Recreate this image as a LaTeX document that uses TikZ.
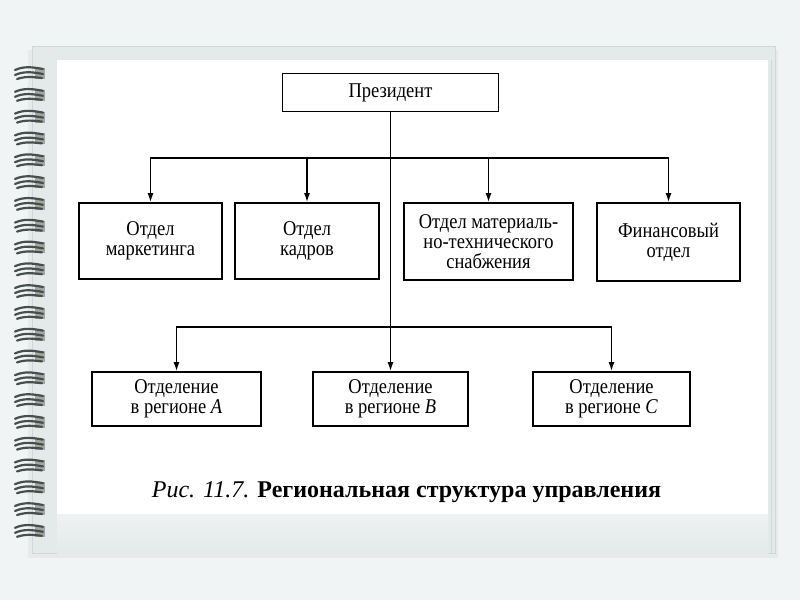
\documentclass[tikz,border=0pt]{standalone}
\usepackage{fontspec}
\setmainfont{Liberation Serif}
\newfontfamily\boxfont[FakeStretch=0.88]{Liberation Serif}
\usetikzlibrary{arrows.meta}
\usetikzlibrary{calc}

\definecolor{bgcol}{RGB}{241,244,244}
\definecolor{pagecol}{RGB}{228,233,233}
\definecolor{pageline}{RGB}{208,215,215}
\definecolor{coilcol}{RGB}{70,78,78}
\definecolor{coilend}{RGB}{160,168,160}

\begin{document}
\begin{tikzpicture}[x=1pt, y=-1pt,
  unit/.style={draw, line width=1.7pt, inner sep=0pt, align=center,
    font=\boxfont\fontsize{21}{20}\selectfont},
  arr/.style={->, >={Latex[length=9pt,width=6pt]}, line width=1.5pt},
  coil/.style={coilcol, line width=2.2pt, line cap=round}]
\useasboundingbox (0,0) rectangle (800,600);
% background and the notebook page
\fill[bgcol] (0,0) rectangle (800,600);
\fill[black!12, opacity=.5] (28,50) rectangle (778,558);
\fill[pagecol] (32,46) rectangle (775,553);
\draw[pageline] (32,46) rectangle (775,553);
\draw[pageline] (771,60) -- (771,553);
\shade[top color=pagecol!60!white, bottom color=pagecol] (57,514) rectangle (768,553);
\fill[white] (57,60) rectangle (768,514);
% spiral binding
\foreach \i [evaluate=\i as \cy using 74+21.8*\i] in {0,...,21} {
 \fill[coilend] (35,\cy-6) rectangle (45,\cy+5);
 \draw[coil] (15,\cy-4) .. controls (24,\cy-8) and (32,\cy-7) .. (43,\cy-5);
 \draw[coil] (15,\cy+1) .. controls (24,\cy-3) and (32,\cy-2) .. (43,\cy);
 \draw[coil] (17,\cy+5) .. controls (26,\cy+2) and (33,\cy+3) .. (42,\cy+4);
}
% boxes
\node[unit, minimum width=216, minimum height=38] (pres) at (390.5,92.5) {Президент};
\node[unit, minimum width=143, minimum height=76] (mark) at (150.5,241) {Отдел\\маркетинга};
\node[unit, minimum width=144, minimum height=76] (kadr) at (307,241) {Отдел\\кадров};
\node[unit, minimum width=169, minimum height=77] (snab) at (488.5,241.5) {Отдел материаль-\\но-технического\\снабжения};
\node[unit, minimum width=143, minimum height=78] (fin) at (668.5,242) {Финансовый\\отдел};
\node[unit, minimum width=169, minimum height=54] (regA) at (176.5,399) {Отделение\\в регионе \textit{A}};
\node[unit, minimum width=155, minimum height=54] (regB) at (390.5,399) {Отделение\\в регионе \textit{B}};
\node[unit, minimum width=157, minimum height=54] (regC) at (611.5,399) {Отделение\\в регионе \textit{C}};
% connectors
\coordinate (topbus) at (390.5,158);
\coordinate (lowbus) at (390.5,327);
\draw[arr] (pres) -- (regB);
\foreach \n in {mark,kadr,snab,fin}
 \draw[arr] (topbus) -| (\n);
\foreach \n in {regA,regC}
 \draw[arr] (lowbus) -| (\n);
% caption
\node[anchor=base, font=\fontsize{24}{28}\selectfont] (cap) at (406.5,497)
 {\textit{Рис. 11.7.} \textbf{Региональная структура управления}};
\end{tikzpicture}
\end{document}
